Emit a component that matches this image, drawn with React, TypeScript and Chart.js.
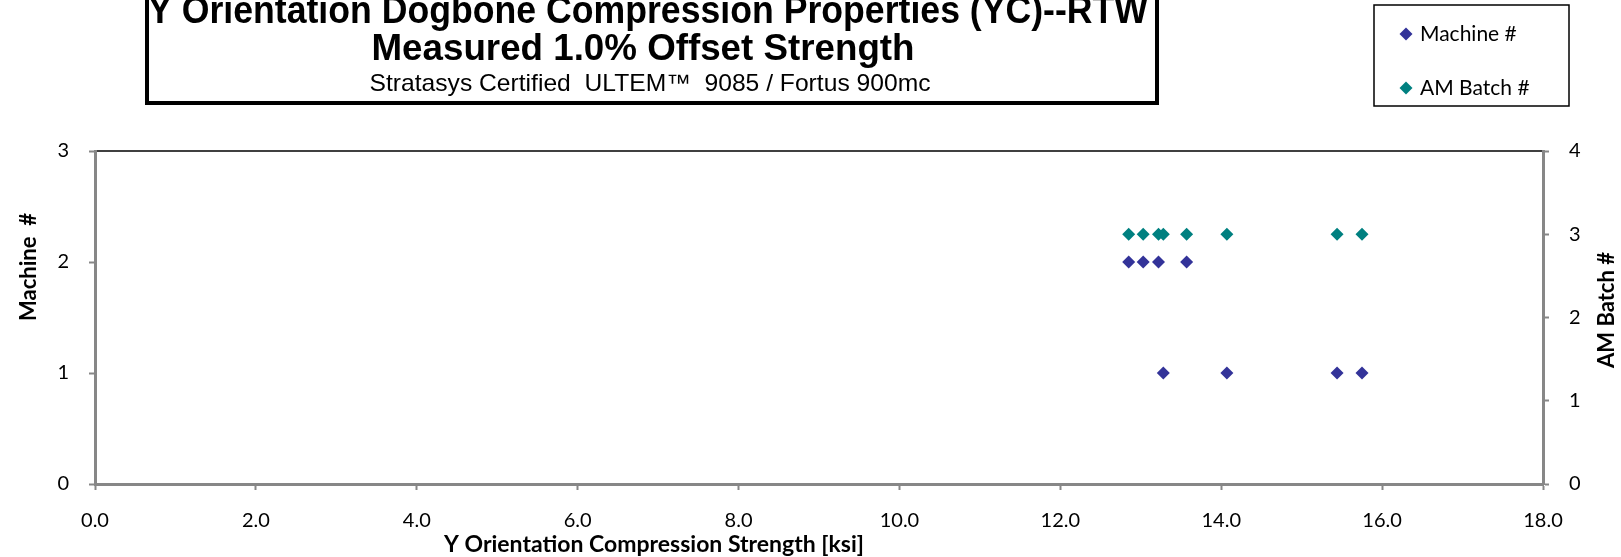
import React, { useEffect, useRef } from 'react';
import { Chart, registerables } from 'chart.js';

Chart.register(...registerables);

// ---- data ----
const strength = [12.85, 13.03, 13.22, 13.28, 13.57, 14.07, 15.44, 15.75];
const machineNo = [2, 2, 2, 1, 2, 1, 1, 1];
const amBatchNo = [3, 3, 3, 3, 3, 3, 3, 3];

const seriesNames = ['Machine #', 'AM Batch #'];
const seriesColors = ['#333399', '#008080'];

const titleLines = [
  'Y Orientation Dogbone Compression Properties (YC)--RTW',
  'Measured 1.0% Offset Strength',
  'Stratasys Certified  ULTEM\u2122  9085 / Fortus 900mc',
];
const xAxisTitle = 'Y Orientation Compression Strength [ksi]';
const yAxisTitle = 'Machine  #';
const y2AxisTitle = 'AM Batch #';

const xRange = [0, 18];
const yRange = [0, 3];
const y2Range = [0, 4];

const W = 1621;
const H = 557;
const AXIS_GREY = '#878787';
const FONT = 'Lato, "Open Sans", sans-serif';
const NARROW = '"Liberation Sans Narrow", "Liberation Sans", Arial, sans-serif';

function fitText(ctx: CanvasRenderingContext2D, text: string, cx: number, y: number, font: string, target: number) {
  ctx.save();
  ctx.font = font;
  const w = ctx.measureText(text).width;
  ctx.translate(cx, y);
  ctx.scale(target / w, 1);
  ctx.textAlign = 'center';
  ctx.textBaseline = 'alphabetic';
  ctx.fillText(text, 0, 0);
  ctx.restore();
}

function diamond(ctx: CanvasRenderingContext2D, x: number, y: number, r: number, color: string) {
  ctx.beginPath();
  ctx.moveTo(x - r, y);
  ctx.lineTo(x, y - r);
  ctx.lineTo(x + r, y);
  ctx.lineTo(x, y + r);
  ctx.closePath();
  ctx.fillStyle = color;
  ctx.fill();
}

const decorPlugin = {
  id: 'decor',
  beforeDraw(chart: any) {
    const { ctx, chartArea: ca } = chart;
    ctx.save();
    ctx.strokeStyle = '#000';
    ctx.lineWidth = 1.5;
    ctx.beginPath();
    ctx.moveTo(ca.left, ca.top);
    ctx.lineTo(ca.right, ca.top);
    ctx.stroke();
    ctx.restore();
  },
  afterDraw(chart: any) {
    const { ctx } = chart;
    ctx.save();
    ctx.fillStyle = '#000';
    // title box
    ctx.strokeStyle = '#000';
    ctx.lineWidth = 4;
    ctx.strokeRect(147, -10, 1010, 113);
    fitText(ctx, titleLines[0], 648, 23, `bold 38px ${NARROW}`, 1000);
    fitText(ctx, titleLines[1], 643, 60, `bold 37px ${NARROW}`, 543);
    fitText(ctx, titleLines[2], 650, 91, `24px ${NARROW}`, 561);

    // legend
    ctx.lineWidth = 1.5;
    ctx.strokeRect(1374, 5, 195, 101);
    ctx.font = `21px ${FONT}`;
    ctx.textAlign = 'left';
    ctx.textBaseline = 'middle';
    const ly = [34, 88];
    seriesNames.forEach((n, i) => {
      diamond(ctx, 1406, ly[i], 6.5, seriesColors[i]);
      ctx.fillStyle = '#000';
      ctx.fillText(n, 1420, ly[i]);
    });

    // axis titles
    ctx.textAlign = 'center';
    ctx.textBaseline = 'middle';
    ctx.fillStyle = '#000';
    ctx.font = `bold 23px ${FONT}`;
    ctx.fillText(xAxisTitle, 654, 545);
    ctx.font = `bold 22px ${FONT}`;
    ctx.save();
    ctx.translate(29, 267);
    ctx.rotate(-Math.PI / 2);
    ctx.fillText(yAxisTitle, 0, 0);
    ctx.restore();
    ctx.save();
    ctx.translate(1607, 310);
    ctx.rotate(-Math.PI / 2);
    ctx.fillText(y2AxisTitle, 0, 0);
    ctx.restore();
    ctx.restore();
  },
};

export default function App() {
  const ref = useRef<HTMLCanvasElement | null>(null);
  useEffect(() => {
    document.body.style.margin = '0';
    const canvas = ref.current!;
    const axisCommon = {
      grid: {
        display: true,
        drawOnChartArea: false,
        drawTicks: true,
        tickLength: 6,
        tickWidth: 2,
        tickColor: AXIS_GREY,
        color: AXIS_GREY,
      },
      border: { display: true, color: AXIS_GREY, width: 3 },
    };
    const tickFont = { family: FONT, size: 20 };
    const chart = new Chart(canvas, {
      type: 'scatter',
      data: {
        datasets: [
          {
            label: seriesNames[0],
            data: strength.map((x, i) => ({ x, y: machineNo[i] })),
            yAxisID: 'y',
            pointStyle: 'rectRot',
            pointRadius: 6.5,
            pointBorderWidth: 0,
            backgroundColor: seriesColors[0],
            borderColor: seriesColors[0],
          },
          {
            label: seriesNames[1],
            data: strength.map((x, i) => ({ x, y: amBatchNo[i] })),
            yAxisID: 'y2',
            pointStyle: 'rectRot',
            pointRadius: 6.5,
            pointBorderWidth: 0,
            backgroundColor: seriesColors[1],
            borderColor: seriesColors[1],
          },
        ],
      },
      options: {
        responsive: false,
        animation: false,
        layout: { padding: { top: 151, left: 0, right: 0, bottom: 0 } },
        plugins: {
          legend: { display: false },
          title: { display: false },
          tooltip: { enabled: false },
        },
        scales: {
          x: {
            type: 'linear',
            position: 'bottom',
            min: xRange[0],
            max: xRange[1],
            ...axisCommon,
            ticks: {
              stepSize: 2,
              color: '#000',
              font: tickFont,
              padding: 19,
              maxRotation: 0,
              callback: (v: any) => Number(v).toFixed(1),
            },
            afterFit: (s: any) => { s.height = H - 484; },
          },
          y: {
            type: 'linear',
            position: 'left',
            min: yRange[0],
            max: yRange[1],
            ...axisCommon,
            ticks: {
              stepSize: 1,
              color: '#000',
              font: tickFont,
              padding: 20,
            },
            afterFit: (s: any) => { s.width = 95; },
          },
          y2: {
            type: 'linear',
            position: 'right',
            min: y2Range[0],
            max: y2Range[1],
            ...axisCommon,
            ticks: {
              stepSize: 1,
              color: '#000',
              font: tickFont,
              padding: 20,
            },
            afterFit: (s: any) => { s.width = W - 1543; },
          },
        },
      },
      plugins: [decorPlugin],
    } as any);
    return () => chart.destroy();
  }, []);
  return (
    <div style={{ width: W, height: H, position: 'relative', background: '#fff' }}>
      <canvas ref={ref} width={W} height={H} style={{ display: 'block', width: W, height: H }} />
    </div>
  );
}
